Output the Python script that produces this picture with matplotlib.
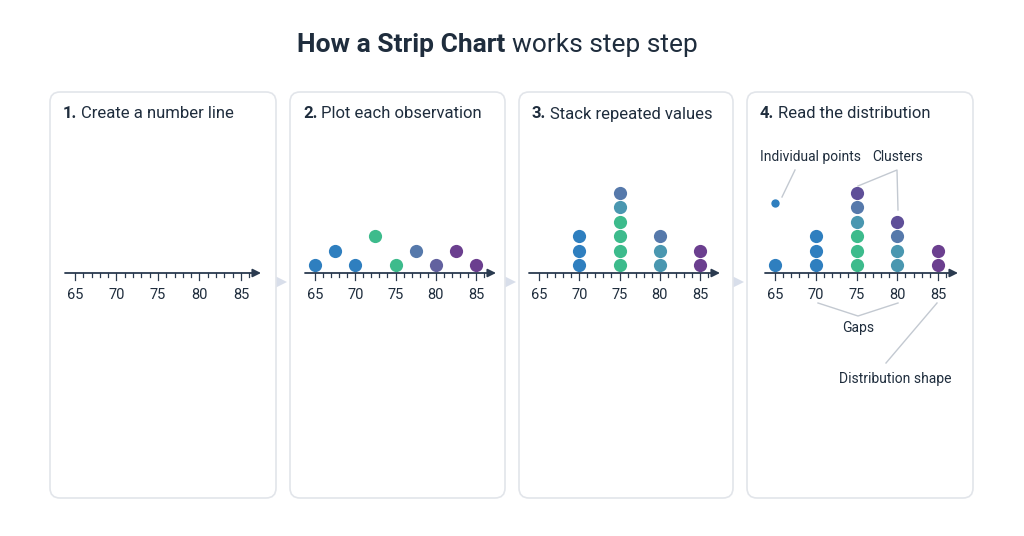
import matplotlib
matplotlib.use("Agg")
import matplotlib.pyplot as plt
from matplotlib.patches import FancyBboxPatch, Polygon

W, H = 1024, 536
plt.rcParams["font.family"] = ["Roboto", "DejaVu Sans"]

# data
ticks = [65, 70, 75, 80, 85]
step_titles = ["Create a number line", "Plot each observation",
               "Stack repeated values", "Read the distribution"]

BLUE, BLUE2, GREEN, SLATE, TEAL, PURP, PURP2 = (
    "#2f7fbf", "#3a86c0", "#3dbb8c", "#5679ab", "#4a97b0", "#5f4f98", "#6b3f8f")

p2_x = [65, 67.5, 70, 72.5, 75, 77.5, 80, 82.5, 85]
p2_level = [1, 2, 1, 3, 1, 2, 1, 2, 1]
p2_color = [BLUE, BLUE, BLUE, GREEN, GREEN, SLATE, "#62619f", PURP2, PURP2]

p3_values = [70, 75, 80, 85]
p3_colors = [[BLUE, BLUE, BLUE],
             [GREEN, GREEN, GREEN, GREEN, TEAL, SLATE],
             [TEAL, TEAL, SLATE],
             [PURP2, PURP2]]

p4_values = [65, 70, 75, 80, 85]
p4_colors = [[BLUE],
             [BLUE, BLUE, BLUE],
             [GREEN, GREEN, GREEN, TEAL, SLATE, PURP],
             [TEAL, TEAL, SLATE, PURP],
             [PURP2, PURP2]]
outlier_x, outlier_level = 65, 4.8

# layout (pixels)
panels = [(50, 276), (290, 505), (519, 733), (747, 973)]
x65 = [75, 315, 539, 775]
x85 = [241, 476, 700, 938]
axis_y = 273
row = 14.5

fig = plt.figure(figsize=(W / 100, H / 100), dpi=100)
fig.patch.set_facecolor("white")
bg = fig.add_axes([0, 0, 1, 1])
bg.set_xlim(0, W); bg.set_ylim(H, 0); bg.axis("off")

fig.text(512 / W, 1 - 45 / H, "How a Strip Chart ", ha="right", va="center",
         fontsize=19, fontweight="bold", color="#1f2d3d")
fig.text(512 / W, 1 - 45 / H, "works step step", ha="left", va="center",
         fontsize=19, color="#1f2d3d")

for i, (l, r) in enumerate(panels):
    bg.add_patch(FancyBboxPatch((l, 92), r - l, 406, boxstyle="round,pad=0,rounding_size=10",
                                fc="white", ec="#e2e5ea", lw=1.2))
    bg.text(l + 13, 114, f"{i + 1}.", fontsize=12, fontweight="bold", va="center", color="#1f2d3d")
    bg.text(l + 31, 114, step_titles[i], fontsize=12, va="center", color="#1f2d3d")
    if i < 3:
        xa = r + 1
        bg.add_patch(Polygon([[xa - 10, 272], [xa + 10, 282], [xa - 10, 292]],
                             closed=True, fc="#d8deea", ec="none", zorder=0))

axes = []
for i, (l, r) in enumerate(panels):
    s = (x85[i] - x65[i]) / 20
    top, bot = 130, 480
    ax = fig.add_axes([l / W, 1 - bot / H, (r - l) / W, (bot - top) / H])
    ax.set_xlim(65 - (x65[i] - l) / s, 65 + (r - x65[i]) / s)
    ax.set_ylim(-(bot - axis_y) / row, (axis_y - top) / row)
    ax.axis("off")
    x_end = 65 + (x85[i] + 20 - x65[i]) / s
    x_start = 65 - 10 / s
    ax.annotate("", xy=(x_end, 0), xytext=(x_start, 0),
                arrowprops=dict(arrowstyle="-|>", color="#2a3a4f", lw=1.3,
                                mutation_scale=12, shrinkA=0, shrinkB=0))
    for t in range(65, 87):
        ax.plot([t, t], [0, -0.3 if t % 5 else -0.45], color="#2a3a4f", lw=0.9)
    for t in ticks:
        ax.text(t, -1.5, str(t), ha="center", va="center", fontsize=10.5, color="#1f2d3d")
    axes.append(ax)

ms = 9.5
ax = axes[1]
for x, lv, c in zip(p2_x, p2_level, p2_color):
    ax.plot(x, lv - 0.45, "o", ms=ms, color=c, mec="none")

ax = axes[2]
for v, cols in zip(p3_values, p3_colors):
    for k, c in enumerate(cols):
        ax.plot(v, k + 0.55, "o", ms=ms, color=c, mec="none")

ax = axes[3]
for v, cols in zip(p4_values, p4_colors):
    for k, c in enumerate(cols):
        ax.plot(v, k + 0.55, "o", ms=ms, color=c, mec="none")
ax.plot(outlier_x, outlier_level, "o", ms=6, color=BLUE, mec="none")

# annotations panel 4 (in pixel coords on background)
lc = "#c3c9d1"
bg.text(810, 157, "Individual points", ha="center", va="center", fontsize=10, color="#1f2d3d")
bg.plot([795, 782], [170, 197], color=lc, lw=1)
bg.text(898, 157, "Clusters", ha="center", va="center", fontsize=10, color="#1f2d3d")
bg.plot([858, 897, 898], [186, 170, 210], color=lc, lw=1)
bg.text(858, 328, "Gaps", ha="center", va="center", fontsize=10, color="#1f2d3d")
bg.plot([818, 858, 898], [303, 316, 303], color=lc, lw=1)
bg.text(895, 379, "Distribution shape", ha="center", va="center", fontsize=10, color="#1f2d3d")
bg.plot([886, 937], [363, 303], color=lc, lw=1)

fig.savefig("out.png", dpi=100, facecolor="white")
